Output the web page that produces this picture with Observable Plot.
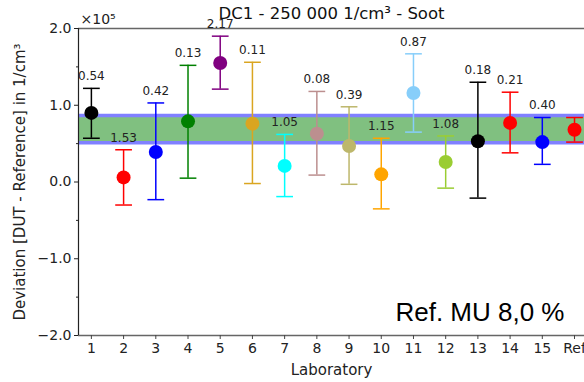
<!DOCTYPE html>
<html>
<head>
<meta charset="utf-8">
<script src="https://cdn.jsdelivr.net/npm/d3@7"></script>
<script src="https://cdn.jsdelivr.net/npm/@observablehq/plot@0.6"></script>
<style>
  html, body { margin: 0; padding: 0; background: #fff; overflow: hidden; }
</style>
</head>
<body>
<div id="chart"></div>
<script>
// ---- data (values in units of 1e5 1/cm³) ----
const labs = ["1","2","3","4","5","6","7","8","9","10","11","12","13","14","15","Ref"];
const values = [0.90, 0.06, 0.39, 0.79, 1.55, 0.76, 0.21, 0.63, 0.47, 0.10, 1.16, 0.26, 0.53, 0.77, 0.52, 0.68];
const upper  = [1.22, 0.42, 1.03, 1.52, 1.90, 1.56, 0.62, 1.18, 0.98, 0.57, 1.67, 0.60, 1.30, 1.17, 0.84, 0.84];
const lower  = [0.57,-0.30,-0.23, 0.05, 1.21,-0.02,-0.19, 0.09,-0.03,-0.35, 0.65,-0.08,-0.21, 0.38, 0.23, 0.52];
const scores = ["0.54","1.53","0.42","0.13","2.17","0.11","1.05","0.08","0.39","1.15","0.87","1.08","0.18","0.21","0.40",""];
const colors = ["black","red","blue","green","purple","goldenrod","cyan","rosybrown","darkkhaki","orange","lightskyblue","yellowgreen","black","red","blue","red"];
const bandLow = 0.51;
const bandHigh = 0.865;
const yTicks = [-2, -1, 0, 1, 2];
const yMinor = [-1.5, -0.5, 0.5, 1.5];
const title = "DC1 - 250 000 1/cm³ - Soot";
const yLabel = "Deviation [DUT - Reference] in 1/cm³";
const xLabel = "Laboratory";
const note = "Ref. MU 8,0 %";
const expo = "×10⁵";

const data = labs.map((l, i) => ({
  pos: i + 1, lab: l, v: values[i], hi: upper[i], lo: lower[i], s: scores[i], c: colors[i]
}));
const xDom = [0.6, 16.31];
const capHalf = 0.26;
const fmt = d => d.toFixed(1).replace("-", "\u2212");

const chart = Plot.plot({
  width: 584,
  height: 382,
  marginTop: 28,
  marginBottom: 47,
  marginLeft: 78,
  marginRight: 0,
  style: { fontFamily: "DejaVu Sans", fontSize: "14px", color: "#222", background: "white" },
  x: { domain: xDom, axis: null },
  y: { domain: [-2, 2], axis: null },
  color: { type: "identity" },
  marks: [
    // band
    Plot.rect([0], { x1: () => xDom[0], x2: () => xDom[1], y1: () => bandLow, y2: () => bandHigh, fill: "#80c080" }),
    Plot.ruleY([bandLow, bandHigh], { stroke: "#8080ff", strokeWidth: 3.5 }),
    // frame
    Plot.ruleY([2, -2], { stroke: "#666", strokeWidth: 1.5 }),
    Plot.ruleX([xDom[0]], { stroke: "#222", strokeWidth: 1.2 }),
    // axes
    Plot.axisX({ ticks: labs.map((_, i) => i + 1), tickFormat: d => labs[d - 1], tickSize: 4, tickPadding: 4, fontSize: 14, label: null, stroke: "#444" }),
    Plot.axisY({ ticks: yTicks, tickFormat: fmt, tickSize: 4, tickPadding: 3, fontSize: 14, label: null }),
    Plot.axisY({ ticks: yMinor, tickSize: 2, text: null, label: null }),
    // error bars
    Plot.ruleX(data, { x: "pos", y1: "lo", y2: "hi", stroke: "c", strokeWidth: 1.5 }),
    Plot.link(data, { x1: d => d.pos - capHalf, x2: d => d.pos + capHalf, y1: "hi", y2: "hi", stroke: "c", strokeWidth: 1.5 }),
    Plot.link(data, { x1: d => d.pos - capHalf, x2: d => d.pos + capHalf, y1: "lo", y2: "lo", stroke: "c", strokeWidth: 1.5 }),
    Plot.dot(data, { x: "pos", y: "v", r: 7, fill: "c", stroke: null }),
    // score labels
    Plot.text(data, { x: "pos", y: "hi", text: "s", dy: -12, fontSize: 12, fill: "#222" }),
    // texts
    Plot.text([title], { frameAnchor: "top", lineAnchor: "middle", dy: -14.5, fontSize: 16.5, fill: "#111" }),
    Plot.text([expo], { frameAnchor: "top-left", textAnchor: "start", lineAnchor: "middle", dx: 2, dy: -9, fontSize: 14, fill: "#222" }),
    Plot.text([yLabel], { frameAnchor: "left", textAnchor: "middle", rotate: -90, dx: -58, fontSize: 15, fill: "#222" }),
    Plot.text([xLabel], { frameAnchor: "bottom", lineAnchor: "middle", dy: 35, fontSize: 15, fill: "#222" }),
    Plot.text([note], { frameAnchor: "bottom-right", textAnchor: "end", lineAnchor: "middle", dx: -20, dy: -23, fontSize: 26, fontFamily: "Liberation Sans", fill: "#000" })
  ]
});
document.getElementById("chart").appendChild(chart);
</script>
</body>
</html>
